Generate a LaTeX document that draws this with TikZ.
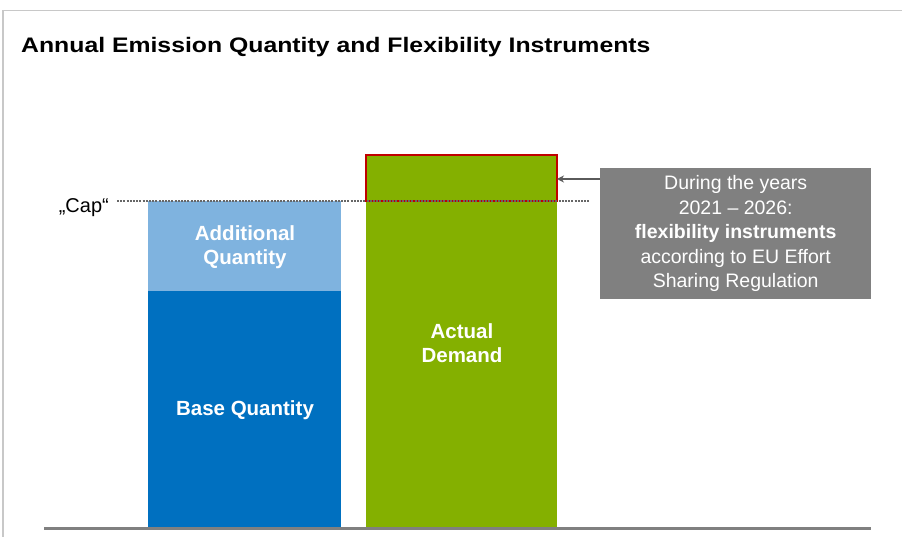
\documentclass[tikz,border=0pt]{standalone}
\usepackage{fontspec}
\setmainfont{Liberation Sans}
\usetikzlibrary{arrows.meta}
\definecolor{basebl}{RGB}{0,112,192}
\definecolor{addbl}{RGB}{127,179,223}
\definecolor{demgr}{RGB}{132,176,0}
\definecolor{boxgr}{RGB}{128,128,128}
\definecolor{capred}{RGB}{192,0,0}
\definecolor{framegr}{RGB}{200,200,200}
\definecolor{arrgr}{RGB}{90,90,90}
\tikzset{
  bartxt/.style={text=white,font=\fontsize{20.5}{24.5}\selectfont\bfseries,align=center},
  bar/.style={draw=none,inner sep=0pt,outer sep=0pt,minimum width=193pt},
}
\begin{document}
\begin{tikzpicture}[x=1pt,y=-1pt]
\useasboundingbox (0,0) rectangle (902,537);
% frame
\draw[framegr,line width=1.2pt] (3,537) -- (3,10.5) -- (902,10.5);
% title
\node[anchor=base west,inner sep=0pt,font=\fontsize{21}{25}\selectfont\bfseries] (title) at (21,53) {\scalebox{1.18}[1]{Annual Emission Quantity and Flexibility Instruments}};
% bars
\fill[basebl] (148,291) rectangle (341,527);
\fill[addbl] (148,201) rectangle (341,291);
\fill[demgr] (366,155) rectangle (557,527);
\node[bar,minimum height=46pt,draw=capred,line width=1.5pt,anchor=north west,minimum width=191pt] (flex) at (366,155) {};
\node[bartxt] (add) at (245,247) {Additional\\Quantity};
\node[bartxt] (base) at (245,410) {Base Quantity};
\node[bartxt] (dem) at (462,343) {Actual\\Demand};
% cap line
\node[anchor=east,inner sep=0pt,font=\fontsize{20}{22}\selectfont] (cap) at (109,208) {„Cap“};
\coordinate (capL) at (117,201);
\coordinate (capR) at (590,201);
\draw[boxgr!80!black,line width=2pt,dash pattern=on 2pt off 1.2pt] (capL) -- (capR);
% baseline
\coordinate (axL) at (44,528.5);
\coordinate (axR) at (871,528.5);
\draw[boxgr,line width=3pt] (axL) -- (axR);
% info box
\node[fill=boxgr,anchor=north west,minimum width=271pt,minimum height=131pt,inner sep=0pt,text=white,align=center,font=\fontsize{19.5}{24.4}\selectfont] (info) at (600,168) {During the years\\2021 – 2026:\\\textbf{flexibility instruments}\\according to EU Effort\\Sharing Regulation};
\coordinate (arrS) at (600,179);
\draw[arrgr,line width=1.8pt,-{Stealth[length=7pt,width=7pt]}] (arrS) -- (flex.east |- arrS);
\end{tikzpicture}
\end{document}
